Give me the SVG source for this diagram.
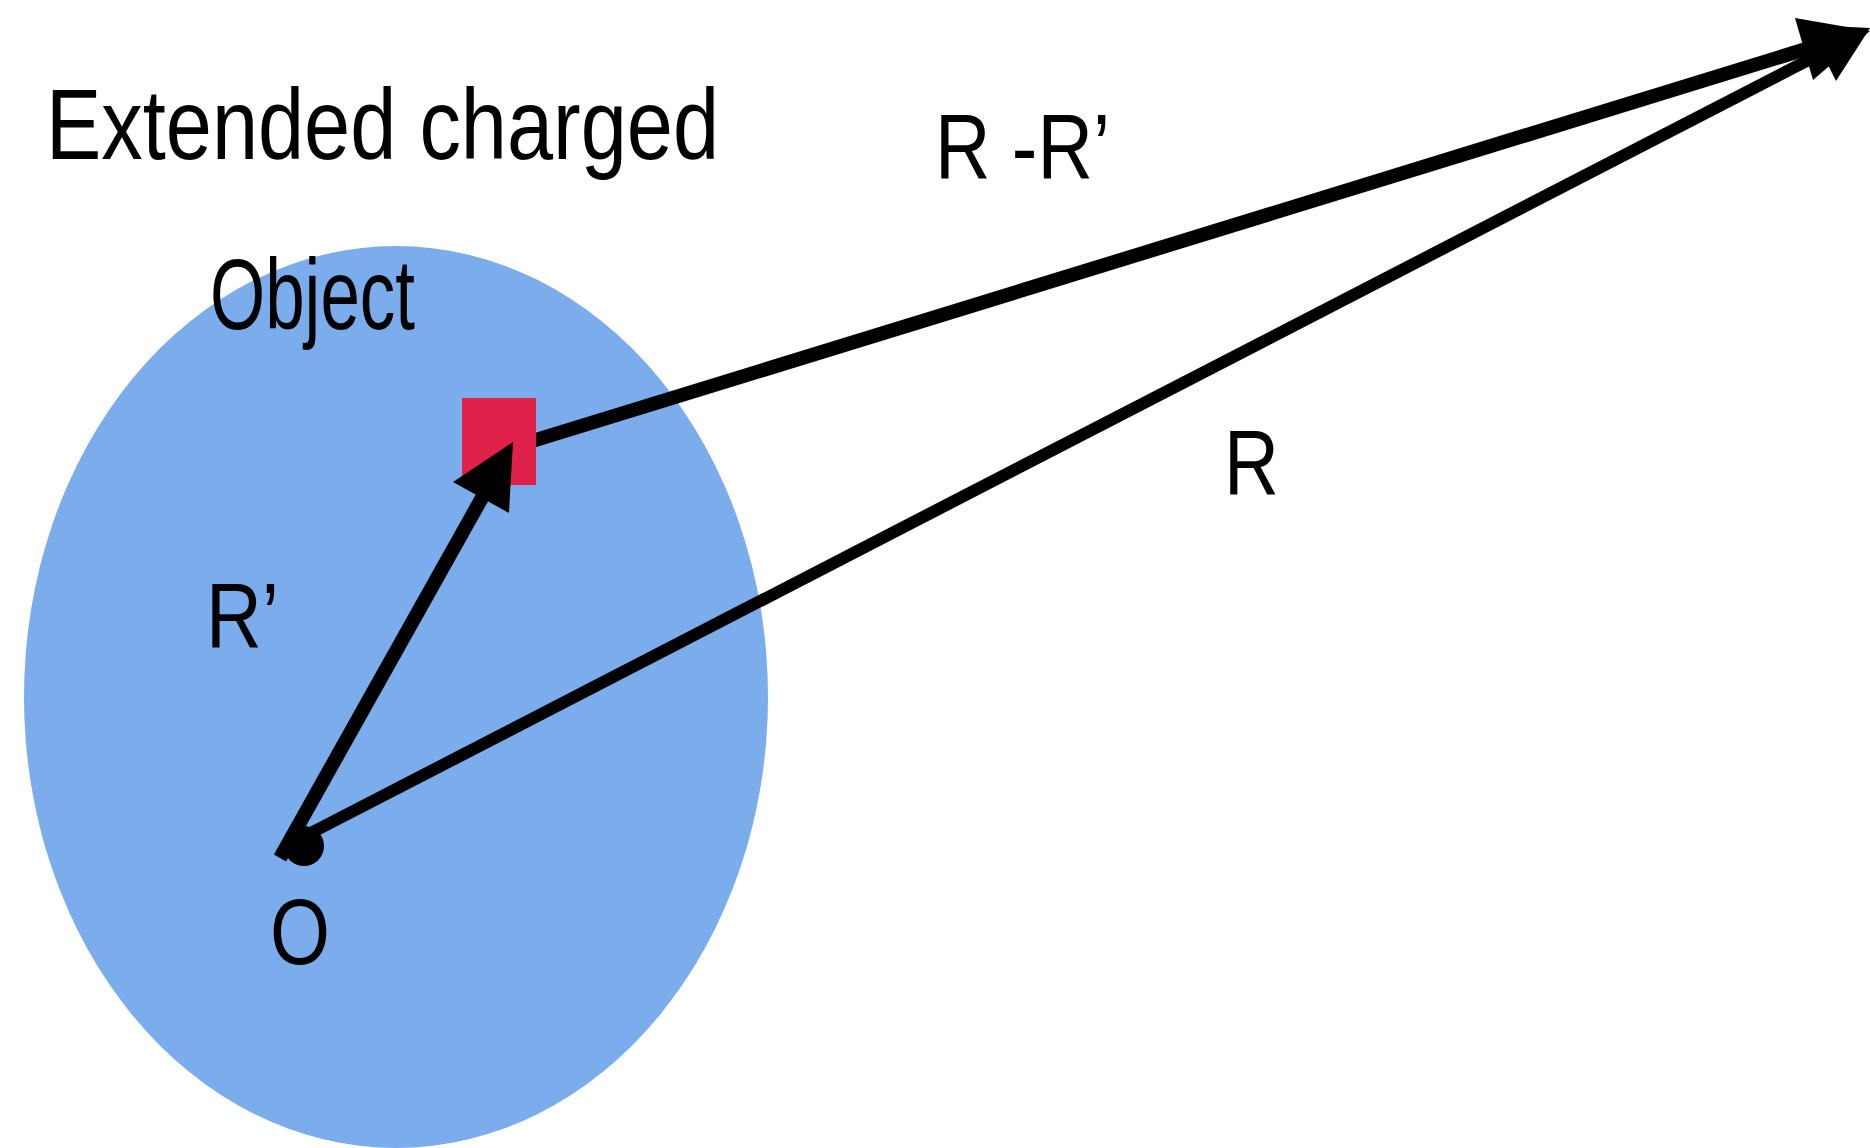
<svg xmlns="http://www.w3.org/2000/svg" width="1870" height="1148" viewBox="0 0 1870 1148">
<style>
.lbl{font-family:"Liberation Sans",Arial,sans-serif;fill:#000}
.big{font-size:100px}
.mid{font-size:93px}
.shaft{stroke:#000;fill:none;stroke-linecap:butt}
.head{fill:#000;stroke:none}
</style>
<rect width="1870" height="1148" fill="#fff"/>
<g id="object">
<ellipse cx="396" cy="697" rx="372" ry="451" fill="#7BACEC"/>
</g>
<g id="title">
<text class="lbl big" x="46" y="159" textLength="673" lengthAdjust="spacingAndGlyphs">Extended charged</text>
<text class="lbl big" x="210" y="329" textLength="205" lengthAdjust="spacingAndGlyphs">Object</text>
</g>
<g id="connectors">
<line class="shaft" x1="500" y1="451" x2="1806" y2="49" stroke-width="14"/>
<polygon class="head" points="1795,18 1870,31 1813,80"/>
</g>
<g id="charge">
<rect x="462" y="398" width="74" height="87" fill="#E0224A"/>
</g>
<g id="connectors2">
<line class="shaft" x1="280" y1="858" x2="483" y2="496" stroke-width="14"/>
<polygon class="head" points="513,442 453,482 509,513"/>
<line class="shaft" x1="305" y1="836" x2="1824" y2="52" stroke-width="12"/>
<polygon class="head" points="1870,28 1836,81 1808,25"/>
</g>
<g id="origin">
<circle cx="304" cy="846" r="20" fill="#000"/>
</g>
<g id="labels">
<text class="lbl mid" x="935" y="179" textLength="175" lengthAdjust="spacingAndGlyphs">R -R’</text>
<text class="lbl mid" x="1224" y="495" textLength="55" lengthAdjust="spacingAndGlyphs">R</text>
<text class="lbl mid" x="206" y="648" textLength="73" lengthAdjust="spacingAndGlyphs">R’</text>
<text class="lbl mid" x="270" y="964" textLength="60" lengthAdjust="spacingAndGlyphs">O</text>
</g>
</svg>
